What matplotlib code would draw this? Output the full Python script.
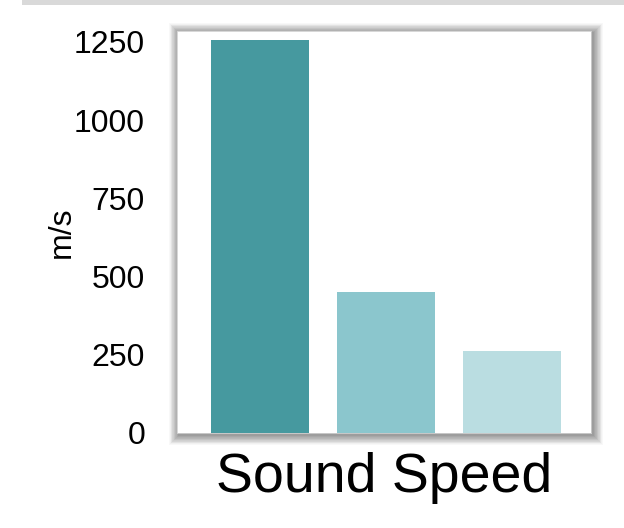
import matplotlib
matplotlib.use("Agg")
import matplotlib.pyplot as plt
from matplotlib.patches import Rectangle

plt.rcParams['font.family'] = ['Liberation Sans', 'DejaVu Sans']

# bar data
categories = ["A", "B", "C"]
speeds = [1255, 450, 262]
bar_colors = ["#46999F", "#8BC6CD", "#BADDE1"]
y_ticks = [0, 250, 500, 750, 1000, 1250]

W, H = 624, 528
fig = plt.figure(figsize=(W / 100, H / 100), dpi=100)

# thin gray band along the top edge
fig.patches.append(Rectangle((22 / W, 1 - 5 / H), 1, 5 / H, transform=fig.transFigure,
                             facecolor="#D9D9D9", edgecolor="none", zorder=0))

left, right, top, bottom = 177, 591, 31, 433
ax_rect = [left / W, 1 - bottom / H, (right - left) / W, (bottom - top) / H]

# soft drop shadow behind the plot box
n = 16
for i in range(n, 0, -1):
    pad = i * 0.6
    fig.patches.append(Rectangle(((left - pad + 2) / W, 1 - (bottom + pad + 2) / H),
                                 (right - left + 2 * pad) / W, (bottom - top + 2 * pad) / H,
                                 transform=fig.transFigure, facecolor="black",
                                 edgecolor="none", alpha=0.028, zorder=0))

ax = fig.add_axes(ax_rect)
ax.set_zorder(1)
x = range(len(categories))
ax.bar(x, speeds, width=0.78, color=bar_colors)
ax.set_xlim(-0.66, 2.63)
ax.set_ylim(0, 1285)
ax.set_yticks(y_ticks)
ax.set_yticklabels([str(t) for t in y_ticks], fontsize=23)
ax.set_xticks([])
ax.tick_params(axis="y", length=0, pad=23)
for s in ax.spines.values():
    s.set_color("#D0D0D0")
    s.set_linewidth(0.6)
ax.set_ylabel("m/s", fontsize=23, labelpad=-2)
ax.set_xlabel("Sound Speed", fontsize=40, labelpad=14)

fig.savefig("out.png", dpi=100)
